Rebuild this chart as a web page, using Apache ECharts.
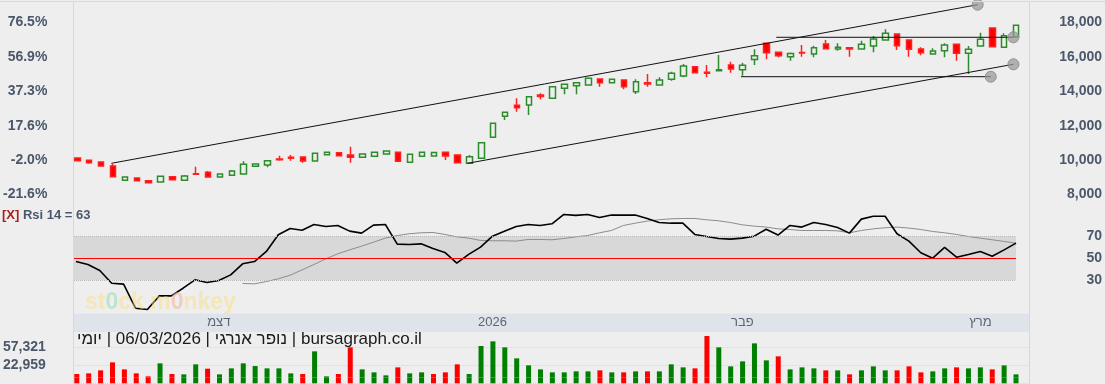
<!DOCTYPE html>
<html><head><meta charset="utf-8">
<script src="https://cdn.jsdelivr.net/npm/echarts@6/dist/echarts.min.js"></script>
<style>html,body{margin:0;padding:0;background:#eeeeee;}
#c,#o{position:absolute;left:0;top:0;width:1105px;height:384px;}
#o{pointer-events:none;}
#dbg{position:absolute;left:300px;top:20px;width:700px;font:10px monospace;color:#00f;white-space:pre-wrap;z-index:10;}</style>
</head><body><div id="c"></div><div id="o"></div><div id="dbg"></div>
<script>
// ---- data ----
const opens  = [10122,9988,9890,9657,8825,8959,8802,8727,9035,8825,9209,9291,9017,9116,9192,9640,9715,10064,10163,10180,9948,10314,10430,10296,10163,10221,10355,10453,9872,10221,10238,10453,10296,9814,10105,11326,12546,13186,13204,13785,13593,14174,14326,14366,14715,14500,14657,13977,14500,14366,14698,14890,15430,15105,15200,15529,15250,15850,16791,16267,16012,16260,16169,16750,16459,16535,16459,16634,16983,17331,16983,16459,16169,16360,16733,16209,16634,17680,16558,17174];
const closes = [9965,9849,9657,9035,9017,8802,8686,9058,8860,9076,9174,9017,9192,9366,9756,9773,9965,10023,10105,9948,10395,10453,10256,10163,10355,10453,10529,9930,10337,10453,10440,10238,9849,10198,11012,12139,12779,13046,13686,13700,14267,14407,14500,14756,14500,14698,14267,14558,14424,14657,15046,15471,15081,15046,15260,15290,15512,16070,16244,16070,16200,16220,16535,16477,16558,16459,16733,17041,17372,16651,16442,16244,16343,16692,16209,16442,17023,16593,17233,17837];
const lows   = [9950,9791,9640,9020,8800,8750,8660,8710,8825,8790,9134,8980,9000,9076,9151,9620,9581,9965,9965,9849,9930,10300,10240,9849,10140,10200,10340,9910,9850,10200,10210,10006,9840,9800,10090,11300,12331,12814,12622,13535,13580,13826,13826,14350,14267,14490,14116,13843,14267,14350,14620,14814,15046,14814,15190,15081,14907,15529,15860,15977,15779,16012,15977,16460,16360,16012,16440,16267,16960,16401,16012,16093,16150,15977,15779,15006,16620,16580,16540,17160];
const highs  = [10130,9995,9930,9773,9030,9000,8820,9070,9076,9134,9616,9366,9210,9420,9930,9790,10006,10256,10296,10190,10420,10470,10445,10779,10370,10470,10545,10470,10360,10480,10480,10470,10300,10296,11030,12160,12800,13593,13700,13884,14280,14420,14510,14770,14730,14710,14670,14698,15006,14814,15140,15590,15440,15529,16110,15721,15663,16442,16800,16280,16260,16692,16651,16983,16791,16550,16942,17215,17605,17350,17000,16558,16500,16791,16750,16634,17407,17690,17372,17850];
const volumes = [6300,7570,13300,28570,15210,7570,1850,26670,6300,5670,24760,16480,5670,17120,26670,21570,17120,17120,7570,6300,49570,1850,6300,57210,15210,9490,3760,19030,7570,9490,6300,9490,24760,6300,59750,68670,57210,36210,22850,15210,9490,9490,11400,11400,13300,9490,9490,11400,11400,11400,24760,19030,17120,78840,57210,20940,30490,64850,32400,40030,15210,19030,17120,13300,13300,5670,13300,20940,13300,13300,20940,9490,11400,17120,19030,17120,19030,15210,22850,5670];
const rsi = [46.9,44.2,38.7,27.1,26.2,4.2,3.0,15.5,15.5,22.5,30.2,27.7,29.6,34.7,44.8,46.9,56.1,71.4,77.2,75.6,80.8,79.0,79.9,74.7,72.9,80.2,80.8,62.8,62.5,63.1,58.8,55.2,45.4,53.4,60.1,70.1,74.7,79.0,80.8,79.9,81.4,90.0,89.1,90.0,87.2,89.4,89.4,89.4,86.3,82.6,82.0,82.0,71.7,69.8,68.0,67.4,68.3,70.1,76.5,71.1,79.9,78.4,82.6,80.8,78.1,72.9,85.7,88.4,88.4,72.3,65.6,54.9,50.0,59.8,50.9,53.4,56.1,51.8,57.6,63.7];
const rsiMa = [null,null,null,null,null,null,null,null,null,null,null,null,null,null,26.8,26.5,28.6,31.1,34.4,39.3,44.2,49.4,54.0,57.6,61.0,64.6,68.3,70.7,72.3,73.2,73.5,71.7,69.5,68.3,66.2,65.9,65.9,65.6,67.1,67.1,66.8,68.0,69.5,70.7,73.2,75.3,79.9,82.0,83.9,85.1,86.0,86.3,86.3,85.1,84.2,82.6,80.5,79.3,78.4,76.8,76.2,75.3,75.3,75.3,75.0,73.2,75.3,76.8,77.8,78.4,77.5,76.2,74.4,73.2,71.7,69.8,68.3,66.8,65.3,63.7];
// trend lines: [startIndex, startPrice, endIndex, endPrice]
const trendLines = [[2.86,9814,75.77,19035],[32.84,9814,78.78,15570],[58.82,17140,78.78,17140],[55.85,14849,76.87,14849]];
const priceTicks = [8000,10000,12000,14000,16000,18000];
const pctLabels = ['-21.6%','-2.0%','17.6%','37.3%','56.9%','76.5%'];
const rsiTicks = [30,50,70];
const volTicks = [22959,57321];
const monthStarts = [12,35,56,76];
const monthLabels = ['דצמ','2026','פבר','מרץ'];
const categories = opens.map((o,i)=>String(i));
const rsiHeader = 'Rsi 14 = 63';
const titleText = 'יומי\u200E | 06/03/2026 | נופר אנרגי\u200E | bursagraph.co.il';

function show(msg){ document.getElementById('dbg').textContent += msg + '\n'; }

// ---- layout ----
const FONT = '"Liberation Sans", Arial, sans-serif';
const LBL = '#4b586b';
const xMin = -0.168, xMax = 80.092;
const L = 74, W = 955;
const volInterval = volTicks[1] - volTicks[0];
const volMin = volTicks[0] - volInterval;
const volMax = 88437;

const candleData = opens.map((o,i)=>[i,o,closes[i],lows[i],highs[i]]);
const volUp = volumes.map((v,i)=> i === 0 ? closes[i] >= opens[i] : closes[i] >= closes[i-1]);
const volStyle = (i)=>({color: volUp[i] ? '#008000' : '#ff0000'});
const volData = volumes.map((v,i)=>({value:[i,v], itemStyle:volStyle(i)}));
const volBase = volumes.map((v,i)=>({value:[i,volMin], itemStyle:volStyle(i)}));
const trendSeries = trendLines.map(t=>({
  type:'line', xAxisIndex:0, yAxisIndex:0, z:5, silent:true, clip:false,
  lineStyle:{color:'#111', width:1}, showSymbol:true,
  data:[{value:[t[0],t[1]], symbol:'none'},
        {value:[t[2],t[3]], symbol:'circle', symbolSize:11,
         itemStyle:{color:'rgba(150,150,150,0.7)', borderColor:'#8f8f8f', borderWidth:1}}]
}));
const OFF = {axisLine:{show:false}, axisTick:{show:false}, axisLabel:{show:false}, splitLine:{show:false}};
const hidX = (g)=>Object.assign({type:'value', gridIndex:g, min:xMin, max:xMax}, OFF);

const option = {
  animation:false,
  backgroundColor:'#eeeeee',
  textStyle:{fontFamily:FONT},
  grid:[
    {left:L, width:W, top:5.3, height:223.6},
    {left:L, width:W, top:203.5, height:109.3},
    {left:70.05, width:952, top:313.5, height:17.5},
    {left:L, width:W, top:331, height:52.3},
    {left:L, width:W, top:313.5, height:17.5, show:true, backgroundColor:'#dfe4ea', borderWidth:0, z:-1}
  ],
  xAxis:[
    hidX(0), hidX(1),
    {type:'category', gridIndex:2, data:categories, boundaryGap:true,
     axisLine:{show:false}, axisTick:{show:false}, splitLine:{show:false},
     axisLabel:{interval:(idx)=>monthStarts.indexOf(idx)>=0, margin:-9, verticalAlign:'middle', color:'#5d6572', fontSize:13, fontFamily:FONT,
       formatter:(v, idx)=>{const k=monthStarts.indexOf(idx); return k>=0?monthLabels[k]:'';}}},
    hidX(3), hidX(4)
  ],
  yAxis:[
    {type:'value', gridIndex:0, position:'right', min:6000, max:19000, interval:2000,
     axisLine:{show:false}, axisTick:{show:false}, splitLine:{show:false},
     axisLabel:{margin:73, align:'right', color:LBL, fontSize:14, fontWeight:'bold', fontFamily:FONT,
       formatter:(v)=>priceTicks.indexOf(v)>=0 ? v.toLocaleString('en-US') : ''}},
    {type:'value', gridIndex:0, position:'left', min:6000, max:19000, interval:2000,
     axisLine:{show:false}, axisTick:{show:false}, splitLine:{show:false},
     axisLabel:{margin:28, align:'right', color:LBL, fontSize:14, fontWeight:'bold', fontFamily:FONT,
       formatter:(v)=>{const k=priceTicks.indexOf(v); return k>=0?pctLabels[k]:'';}}},
    {type:'value', gridIndex:1, position:'right', min:0, max:100, interval:10,
     axisLine:{show:false}, axisTick:{show:false}, splitLine:{show:false},
     axisLabel:{margin:73, align:'right', color:LBL, fontSize:14, fontWeight:'bold', fontFamily:FONT,
       formatter:(v)=>rsiTicks.indexOf(v)>=0 ? String(v) : ''}},
    {type:'value', gridIndex:3, position:'left', min:volMin, max:volMax, interval:volInterval,
     axisLine:{show:false}, axisTick:{show:false},
     splitLine:{show:true, lineStyle:{color:'#d6d6d6', width:1, type:'dotted'}},
     axisLabel:{margin:29, align:'right', color:LBL, fontSize:14, fontWeight:'bold', fontFamily:FONT,
       formatter:(v)=>volTicks.indexOf(v)>=0 ? v.toLocaleString('en-US') : ''}},
    Object.assign({type:'value', gridIndex:2}, OFF),
    Object.assign({type:'value', gridIndex:4}, OFF)
  ],
  series:[
    {type:'candlestick', xAxisIndex:0, yAxisIndex:0, data:candleData, encode:{x:0, y:[1,2,3,4]}, barWidth:6,
     itemStyle:{color:'rgba(0,0,0,0)', color0:'#ff0000', borderColor:'#2c8c2c', borderColor0:'#ff2020', borderWidth:1.5}},
    ...trendSeries,
    {type:'line', xAxisIndex:1, yAxisIndex:2, data:rsiMa.map((v,i)=>[i,v]), symbol:'none', z:3,
     lineStyle:{color:'#8c8c8c', width:1}},
    {type:'line', xAxisIndex:1, yAxisIndex:2, data:rsi.map((v,i)=>[i,v]), symbol:'none', z:4,
     lineStyle:{color:'#000', width:1.6},
     markArea:{silent:true, itemStyle:{color:'#d8d8d8'}, data:[[{coord:[xMin,30]},{coord:[79,70]}]]},
     markLine:{silent:true, symbol:'none', label:{show:false},
       data:[
         [{coord:[xMin,50], lineStyle:{color:'#ff0000', width:1, type:'solid'}},{coord:[79,50]}],
         [{coord:[xMin,70], lineStyle:{color:'#b8b8b8', width:1, type:'dotted'}},{coord:[79,70]}],
         [{coord:[xMin,30], lineStyle:{color:'#b8b8b8', width:1, type:'dotted'}},{coord:[79,30]}]
       ]}},
    {type:'bar', xAxisIndex:3, yAxisIndex:3, data:volData, barWidth:5, stack:'vol'},
    {type:'bar', xAxisIndex:3, yAxisIndex:3, data:volBase, barWidth:5, stack:'vol'}
  ]
};
const graphicOption = {
  backgroundColor:'transparent',
  graphic:[
    {type:'line', silent:true, shape:{x1:0,y1:1.5,x2:1105,y2:1.5}, style:{stroke:'#d8d8d8', lineWidth:1}},
    {type:'line', silent:true, shape:{x1:73.5,y1:1,x2:73.5,y2:384}, style:{stroke:'#d8d8d8', lineWidth:1}},
    {type:'line', silent:true, shape:{x1:1029.5,y1:1,x2:1029.5,y2:384}, style:{stroke:'#d8d8d8', lineWidth:1}},
    {type:'text', silent:true, left:85, top:291, z:1,
     style:{text:'{a|st}{g|0}{a|ck m}{p|0}{a|nkey}', rich:{
       a:{fill:'rgba(250,222,110,0.45)', font:'bold 23px '+FONT},
       g:{fill:'rgba(150,220,180,0.55)', font:'bold 23px '+FONT},
       p:{fill:'rgba(245,170,150,0.5)', font:'bold 23px '+FONT}}}},
    {type:'text', silent:true, left:2, top:209,
     style:{text:'{x|[X]}{r| '+rsiHeader+'}', rich:{
       x:{fill:'#b01c1c', font:'bold 13px '+FONT},
       r:{fill:LBL, font:'bold 13px '+FONT}}}},
    {type:'text', silent:true, left:77, top:331,
     style:{text:titleText, fill:'#1a1a1a', font:'17px '+FONT}}
  ]
};
try { echarts.init(document.getElementById('c')).setOption(option); }
catch(e){ show('main: '+e.message+'\n'+(e.stack||'').slice(0,600)); }
try { echarts.init(document.getElementById('o')).setOption(graphicOption); }
catch(e){ show('graphic: '+e.message); }
</script></body></html>
